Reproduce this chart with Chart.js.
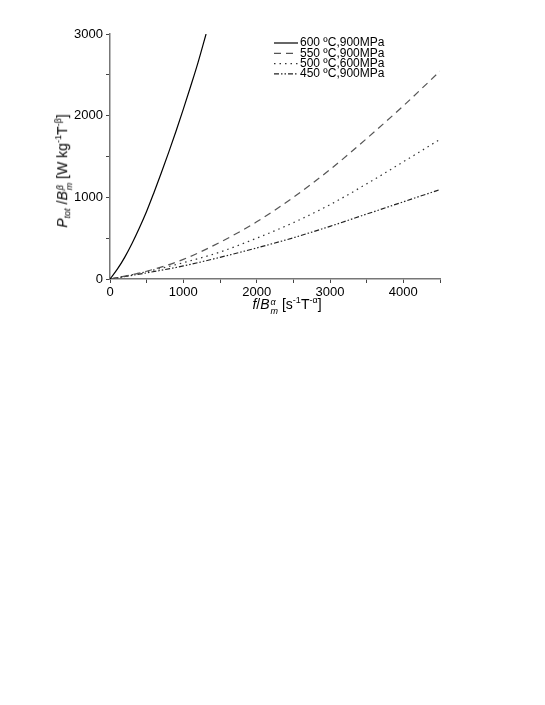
<!DOCTYPE html>
<html>
<head>
<meta charset="utf-8">
<script src="https://cdn.jsdelivr.net/npm/chart.js@4"></script>
<style>
  body { margin: 0; background: #fff; }
  #wrap { position: relative; width: 545px; height: 705px; font-family: Arial, 'Liberation Sans', sans-serif; }
  #chart { position: absolute; left: 0; top: 0; }
  .axt { position: absolute; font-size: 14px; color: #000; white-space: nowrap; line-height: 1; }
  .axt sub, .axt sup { font-size: 9px; }
  .ss { display: inline-block; vertical-align: -5px; font-size: 9px; line-height: 9px; margin-left: 1px; }
  .ss span { display: block; }
  #ytitle { left: 64px; top: 171px; transform: translate(-50%, -50%) rotate(-90deg); }
  #xtitle { left: 287px; top: 306px; transform: translate(-50%, -50%); }
</style>
</head>
<body>
<div id="wrap">
  <canvas id="chart" width="545" height="705"></canvas>
  <div class="axt" id="ytitle"><i>P</i><sub><i>tot</i></sub> /<i>B</i><span class="ss"><span><i>β</i></span><span><i>m</i></span></span> [W kg<sup>-1</sup>T<sup>-β</sup>]</div>
  <div class="axt" id="xtitle"><i>f</i>/<i>B</i><span class="ss"><span><i>α</i></span><span><i>m</i></span></span> [s<sup>-1</sup>T<sup>-α</sup>]</div>
</div>
<script>
const labels = ['600 \u00baC,900MPa', '550 \u00baC,900MPa', '500 \u00baC,600MPa', '450 \u00baC,900MPa'];

const f600 = [0, 100, 200, 300, 400, 500, 600, 700, 800, 900, 1000, 1100, 1200, 1310];
const p600 = [0, 120, 265, 435, 625, 830, 1060, 1300, 1550, 1810, 2080, 2360, 2650, 3000];

const fLow = [0, 500, 1000, 1500, 2000, 2500, 3000, 3500, 4000, 4500];
const p550 = [0, 95, 240, 450, 700, 1000, 1340, 1720, 2120, 2545];
const p500 = [0, 90, 200, 330, 500, 690, 910, 1165, 1435, 1710];
const p450 = [0, 75, 160, 265, 380, 505, 645, 795, 945, 1095];

const colors = ['#000000', '#555555', '#333333', '#222222'];
const dashes = [[], [7, 5], [1.5, 4], [5, 2, 1.5, 2, 1.5, 2]];

const toPts = (xs, ys) => xs.map((x, i) => ({ x: x, y: ys[i] }));
const series = [toPts(f600, p600), toPts(fLow, p550), toPts(fLow, p500), toPts(fLow, p450)];

const datasets = series.map((d, i) => ({
    label: labels[i],
    data: d,
    borderColor: colors[i],
    borderWidth: 1.2,
    borderDash: dashes[i],
    pointRadius: 0,
    cubicInterpolationMode: 'monotone',
    fill: false
}));

// legend drawn inside the plot, like the original
const innerLegend = {
    id: 'innerLegend',
    afterDraw(chart) {
        const ctx = chart.ctx;
        ctx.save();
        ctx.font = '12px Arial, "Liberation Sans", sans-serif';
        ctx.textBaseline = 'middle';
        ctx.fillStyle = '#000';
        chart.data.datasets.forEach((ds, i) => {
            const y = 43 + i * 10.3;
            ctx.strokeStyle = ds.borderColor;
            ctx.lineWidth = 1.2;
            ctx.setLineDash(ds.borderDash);
            ctx.beginPath();
            ctx.moveTo(274, y);
            ctx.lineTo(298, y);
            ctx.stroke();
            ctx.setLineDash([]);
            ctx.fillText(ds.label, 300, y);
        });
        ctx.restore();
    }
};

const tickFont = { family: 'Arial, "Liberation Sans", sans-serif', size: 13 };

new Chart(document.getElementById('chart'), {
    type: 'line',
    data: { datasets: datasets },
    options: {
        responsive: false,
        animation: false,
        layout: { padding: { left: 0, top: 34, right: 105, bottom: 386 } },
        plugins: { legend: { display: false }, tooltip: { enabled: false } },
        scales: {
            x: {
                type: 'linear',
                min: 0,
                max: 4500,
                border: { color: '#777', width: 1.5 },
                grid: { drawOnChartArea: false, tickLength: 4, color: '#444' },
                ticks: {
                    stepSize: 500,
                    color: '#000',
                    font: tickFont,
                    padding: 2,
                    maxRotation: 0,
                    autoSkip: false,
                    callback: v => (v % 1000 === 0 ? v : '')
                },
                afterFit: s => { s.height = 40; }
            },
            y: {
                min: 0,
                max: 3000,
                border: { color: '#777', width: 1.5 },
                grid: { drawOnChartArea: false, tickLength: 4, color: '#444' },
                ticks: {
                    stepSize: 500,
                    color: '#000',
                    font: tickFont,
                    padding: 3,
                    autoSkip: false,
                    callback: v => (v % 1000 === 0 ? v : '')
                },
                afterFit: s => { s.width = 110; }
            }
        }
    },
    plugins: [innerLegend]
});
</script>
</body>
</html>
